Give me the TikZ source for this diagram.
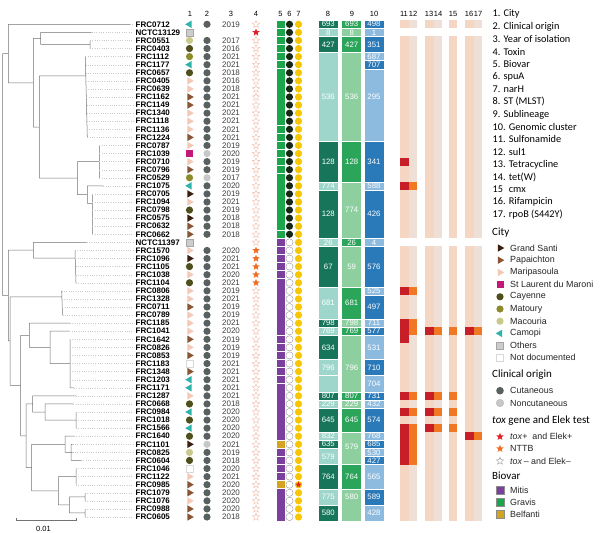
\documentclass[tikz,border=0pt]{standalone}
\usepackage{fontspec}
\setmainfont{Liberation Sans}
\newfontfamily\legfont{Carlito}
\usetikzlibrary{shapes.geometric}

\definecolor{cGS}{HTML}{3B1E0E}
\definecolor{cPA}{HTML}{8A5535}
\definecolor{cMA}{HTML}{F3C9B5}
\definecolor{cSL}{HTML}{C2187C}
\definecolor{cCY}{HTML}{4F4F1C}
\definecolor{cMT}{HTML}{8C8C2A}
\definecolor{cMC}{HTML}{C9C98C}
\definecolor{cCA}{HTML}{2DB3A8}
\definecolor{cOT}{HTML}{CCCCCC}
\definecolor{cCut}{HTML}{58615F}
\definecolor{cNon}{HTML}{C8C8C8}
\definecolor{cToxP}{HTML}{E31E26}
\definecolor{cNTTB}{HTML}{F26B21}
\definecolor{cToxN}{HTML}{F2B8A6}
\definecolor{cMitis}{HTML}{7B3F9E}
\definecolor{cGravis}{HTML}{1CA64B}
\definecolor{cBelf}{HTML}{D4A421}
\definecolor{cSpu}{HTML}{142814}
\definecolor{cNar}{HTML}{F7C600}
\definecolor{stD}{HTML}{17765A}
\definecolor{stL}{HTML}{9ED6CB}
\definecolor{slD}{HTML}{2BA55A}
\definecolor{slL}{HTML}{8DCF9F}
\definecolor{gcD}{HTML}{2A7AB9}
\definecolor{gcL}{HTML}{8DBBE0}
\definecolor{resP}{HTML}{F5D6C2}
\definecolor{resG}{HTML}{EEE0D7}
\definecolor{resR}{HTML}{C81E28}
\definecolor{resO}{HTML}{F07822}

\tikzset{
  treeline/.style={draw=black!55, line width=.5pt},
  leader/.style={draw=black!20, line width=.3pt, dotted},
  strain/.style={anchor=west, inner sep=0pt, font=\fontsize{8}{8}\selectfont\bfseries},
  yeartxt/.style={inner sep=0pt, text=black!75, font=\fontsize{8}{8}\selectfont},
  colnum/.style={inner sep=0pt, font=\fontsize{7.5}{7.5}\selectfont},
  blklbl/.style={inner sep=0pt, text=white, font=\fontsize{7.8}{7.8}\selectfont},
  trimark/.style={regular polygon, regular polygon sides=3, inner sep=0pt, minimum size=8.6pt},
  roundmark/.style={circle, inner sep=0pt, minimum size=7.2pt},
  sqmark/.style={rectangle, inner sep=0pt, minimum size=7pt},
  grandsanti/.style={trimark, shape border rotate=-90, fill=cGS},
  papaichton/.style={trimark, shape border rotate=-90, fill=cPA},
  maripasoula/.style={trimark, shape border rotate=-90, fill=cMA},
  stlaurent/.style={sqmark, fill=cSL},
  cayenne/.style={roundmark, fill=cCY},
  matoury/.style={roundmark, fill=cMT},
  macouria/.style={roundmark, fill=cMC},
  camopi/.style={trimark, shape border rotate=90, fill=cCA},
  others/.style={sqmark, fill=cOT, draw=black!35, line width=.3pt},
  notdoc/.style={sqmark, fill=white, draw=black!15, line width=.3pt},
  cutan/.style={roundmark, fill=cCut},
  noncutan/.style={roundmark, fill=cNon},
  toxstar/.style={star, star points=5, star point ratio=2.3, inner sep=0pt, minimum size=7.8pt},
  toxpos/.style={toxstar, fill=cToxP},
  nttb/.style={toxstar, fill=cNTTB},
  toxneg/.style={toxstar, fill=white, draw=cToxN, line width=.4pt},
  biobox/.style={rectangle, inner sep=0pt, minimum width=8pt, minimum height=7.6pt},
  mitis/.style={biobox, fill=cMitis},
  gravis/.style={biobox, fill=cGravis},
  belfanti/.style={biobox, fill=cBelf},
  spufull/.style={roundmark, fill=cSpu},
  spuempty/.style={roundmark, fill=white, draw=black!40, line width=.4pt},
  narh/.style={roundmark, fill=cNar},
  legnum/.style={anchor=west, inner sep=0pt, font=\legfont\fontsize{10.3}{10.3}\selectfont},
  legtitle/.style={anchor=west, inner sep=0pt, font=\legfont\fontsize{11}{11}\selectfont},
  legitem/.style={anchor=west, inner sep=0pt, text=black!85, font=\fontsize{8.9}{8.9}\selectfont},
}

\newcommand{\typeblock}[7]{%
  \path[fill=#5, draw=white, line width=.45pt] (#2,#3-.5) rectangle (#2+20,#4+.5);%
  \node[blklbl] (#1) at (#2+10,#7) {#6};%
}

\begin{document}
\begin{tikzpicture}[x=1pt,y=-1pt]
\useasboundingbox (0,0) rectangle (600,533);
\fill[white] (0,0) rectangle (600,533);

\foreach \lab/\x in {1/190,2/207,3/231,4/256,5/280.5,6/289.5,7/298.5,8/328,9/352,10/374,11/404,12/413,13/429,14/438,15/453,16/469,17/478}
  \node[colnum] (head\lab) at (\x,14) {\lab};

\begin{scope}[y=-8.077pt,yshift=-16.223pt]
% tree
\draw[treeline] (2.7,4.62) -- (2.7,34.6)
  (2.7,4.62) -- (8.3,4.62) (8.3,1) -- (8.3,8.24) (8.3,1) -- (130,1)
  (8.3,8.24) -- (33.3,8.24) (33.3,2.75) -- (33.3,13.72)
  (33.3,2.75) -- (40.7,2.75) (40.7,2) -- (40.7,3.5) (40.7,2) -- (91.7,2)
  (40.7,3.5) -- (90,3.5) (90,3) -- (90,4)
  (33.3,13.72) -- (39.3,13.72) (39.3,7.4) -- (39.3,20.04) (39.3,7.4) -- (85.7,7.4) (85.3,5) -- (87.3,15)
  (39.3,20.04) -- (77.3,20.04) (77.3,18) -- (77.3,22.08) (77.3,18) -- (99.3,18) (99.3,16) -- (99.3,20)
  (77.3,22.08) -- (87.3,22.08) (87.3,21) -- (87.3,23.16) (87.3,21) -- (103.3,21)
  (87.3,23.16) -- (92.3,23.16) (92.3,22) -- (92.3,27);
\draw[treeline] (2.7,34.6) -- (8.3,34.6) (8.3,28.97) -- (8.3,40.2)
  (8.3,28.97) -- (33.3,28.97) (33.3,28) -- (33.3,29.94) (33.3,28) -- (86.7,28)
  (33.3,29.94) -- (75,29.94) (75,29) -- (76,33)
  (8.3,40.2) -- (10,40.2) (10,34.76) -- (10,45.7) (10,34.76) -- (61.7,34.76) (61.7,34) -- (62.5,37)
  (10,45.7) -- (20.7,45.7) (20.7,39.5) -- (20.7,51.95)
  (20.7,39.5) -- (29.3,39.5) (29.3,38) -- (29.3,41) (29.3,38) -- (70,38)
  (29.3,41) -- (50,41) (50,39) -- (50,43) (50,39) -- (69.3,39) (50,43) -- (70,43) (70,40) -- (70,46) (70,46) -- (74,46)
  (20.7,51.95) -- (26,51.95) (26,48) -- (26,55.9)
  (26,48) -- (32.7,48) (32.7,47) -- (32.7,49) (32.7,47) -- (76,47)
  (32.7,49) -- (45,49) (45,48) -- (45,50) (45,48) -- (73.3,48) (45,50) -- (76,50) (76,49) -- (76,51)
  (26,55.9) -- (31.7,55.9) (31.7,53) -- (31.7,58.75)
  (31.7,53) -- (65,53) (65,52) -- (65,54) (65,52) -- (74,52) (65,54) -- (71,54) (71,53) -- (71,55)
  (71,53) -- (72.7,53) (71,54) -- (72.7,54) (71,55) -- (81,55)
  (31.7,58.75) -- (58.3,58.75) (58.3,57) -- (58.3,60.5) (58.3,57) -- (76,57) (76,56) -- (76,58)
  (58.3,60.5) -- (69.3,60.5) (69.3,59.5) -- (69.3,61.5)
  (69.3,59.5) -- (85,59.5) (85,59) -- (85,60) (69.3,61.5) -- (85,61.5) (85,61) -- (85,62);

\foreach \r/\x in {1/130,2/91.7,3/90,4/90,5/85.3,6/85.5,7/85.7,8/85.9,9/86.1,10/86.3,11/86.5,12/86.7,13/86.9,14/87.1,15/87.3,
  16/99.3,17/99.3,18/99.3,19/99.3,20/99.3,21/103.3,22/92.3,23/92.3,24/92.3,25/92.3,26/92.3,27/92.3,
  28/86.7,29/75,30/75.25,31/75.5,32/75.75,33/76,34/61.7,35/62,36/62.3,37/62.5,38/70,39/69.3,
  40/70,41/70,42/70,43/70,44/70,45/70,46/74,47/76,48/73.3,49/76,50/76,51/76,52/74,53/72.7,54/72.7,55/81,
  56/76,57/76,58/76,59/85,60/85,61/85,62/85}
  \draw[leader] (\x,\r) -- (133,\r);

% strains, city, year
\foreach \r/\n/\ct/\yr in {
  1/FRC0712/camopi/2019, 2/NCTC13129/others/{}, 3/FRC0551/macouria/2017, 4/FRC0403/cayenne/2016,
  5/FRC1112/matoury/2021, 6/FRC1177/camopi/2021, 7/FRC0657/cayenne/2018, 8/FRC0405/maripasoula/2016,
  9/FRC0639/maripasoula/2018, 10/FRC1162/papaichton/2021, 11/FRC1149/papaichton/2021, 12/FRC1340/maripasoula/2021,
  13/FRC1118/maripasoula/2021, 14/FRC1136/maripasoula/2021, 15/FRC1224/papaichton/2021, 16/FRC0787/maripasoula/2019,
  17/FRC1039/stlaurent/2020, 18/FRC0710/maripasoula/2019, 19/FRC0796/papaichton/2019, 20/FRC0529/matoury/2017,
  21/FRC1075/camopi/2020, 22/FRC0705/grandsanti/2019, 23/FRC1094/maripasoula/2021, 24/FRC0798/cayenne/2019,
  25/FRC0575/grandsanti/2018, 26/FRC0632/papaichton/2018, 27/FRC0662/papaichton/2018, 28/NCTC11397/others/{},
  29/FRC1570/maripasoula/2020, 30/FRC1096/grandsanti/2021, 31/FRC1105/cayenne/2021, 32/FRC1038/maripasoula/2020,
  33/FRC1104/cayenne/2021, 34/FRC0806/maripasoula/2019, 35/FRC1328/maripasoula/2021, 36/FRC0711/papaichton/2019,
  37/FRC0789/maripasoula/2019, 38/FRC1185/maripasoula/2021, 39/FRC1041/maripasoula/2020, 40/FRC1642/papaichton/2019,
  41/FRC0826/maripasoula/2019, 42/FRC0853/papaichton/2019, 43/FRC1183/notdoc/2021, 44/FRC1348/papaichton/2021,
  45/FRC1203/camopi/2021, 46/FRC1171/camopi/2021, 47/FRC1287/maripasoula/2021, 48/FRC0668/cayenne/2018,
  49/FRC0984/camopi/2020, 50/FRC1018/cayenne/2020, 51/FRC1566/camopi/2020, 52/FRC1640/cayenne/2020,
  53/FRC1101/grandsanti/2021, 54/FRC0825/macouria/2019, 55/FRC0604/cayenne/2018, 56/FRC1046/notdoc/2020,
  57/FRC1122/maripasoula/2021, 58/FRC0985/papaichton/2020, 59/FRC1079/papaichton/2020, 60/FRC1076/maripasoula/2020,
  61/FRC0988/papaichton/2020, 62/FRC0605/papaichton/2018}
{
  \node[strain] (s\r) at (135.5,\r) {\n};
  \node[\ct] (city\r) at (189.5,\r) {};
  \node[yeartxt] (yr\r) at (231,\r) {\yr};
}

\foreach \r in {1,3,4,...,16,18,19,21,22,...,27,29,30,...,52,54,55,...,62}
  \node[cutan] (clin\r) at (207,\r) {};
\foreach \r in {17,20,53}
  \node[noncutan] (clin\r) at (207,\r) {};

\foreach \r in {1,3,4,...,28,34,35,...,62}
  \node[toxneg] (tox\r) at (256,\r) {};
\foreach \r in {29,...,33}
  \node[nttb] (tox\r) at (256,\r) {};
\node[toxpos] (tox2) at (256,2) {};

\foreach \r in {1,...,27}
  \node[gravis] (bio\r) at (280.5,\r) {};
\foreach \r in {28,...,52,54,55,56,57,59,60,61,62}
  \node[mitis] (bio\r) at (280.5,\r) {};
\foreach \r in {53,58}
  \node[belfanti] (bio\r) at (280.5,\r) {};

\foreach \r in {1,...,27}
  \node[spufull] (spu\r) at (289.5,\r) {};
\foreach \r in {28,...,62}
  \node[spuempty] (spu\r) at (289.5,\r) {};
\foreach \r in {1,...,62}
  \node[narh] (nar\r) at (298.5,\r) {};
\node[toxpos, minimum size=6.5pt] (narstar) at (298.5,58) {};

% ST, sublineage, genomic cluster
\foreach \a/\b/\cl/\lab/\lr [count=\i] in {1/1/stD/693/1, 2/2/stL/8/2, 3/4/stD/427/3.5, 5/15/stL/536/10,
  16/20/stD/128/18, 21/21/stL/774/21, 22/27/stD/128/24.5, 28/28/stL/26/28, 29/33/stD/67/31,
  34/37/stL/681/35.5, 38/38/stD/798/38, 39/39/stL/769/39, 40/42/stD/634/41, 43/44/stL/796/43.5,
  45/46/stL/{}/45.5, 47/47/stD/807/47, 48/48/stL/229/48, 49/51/stD/645/50, 52/52/stL/832/52,
  53/53/stD/635/53, 54/55/stL/579/54.5, 56/58/stD/764/57, 59/60/stL/775/59.5, 61/62/stD/580/61.5}
  {\typeblock{st\i}{318.3}{\a}{\b}{\cl}{\lab}{\lr}}
\foreach \a/\b/\cl/\lab/\lr [count=\i] in {1/1/slD/693/1, 2/2/slL/8/2, 3/4/slD/427/3.5, 5/15/slL/536/10,
  16/20/slD/128/18, 21/27/slL/774/24, 28/28/slD/26/28, 29/33/slL/59/31, 34/37/slD/681/35.5,
  38/38/slL/798/38, 39/39/slD/769/39, 40/46/slL/796/43.5, 47/47/slD/807/47, 48/48/slL/229/48,
  49/51/slD/645/50, 52/55/slL/579/53.3, 56/58/slD/764/57, 59/62/slL/580/59.5}
  {\typeblock{sl\i}{341.7}{\a}{\b}{\cl}{\lab}{\lr}}
\foreach \a/\b/\cl/\lab/\lr [count=\i] in {1/1/gcD/498/1, 2/2/gcL/1/2, 3/4/gcD/351/3.5, 5/5/gcL/687/5,
  6/6/gcD/707/6, 7/15/gcL/295/10, 16/20/gcD/341/18, 21/21/gcL/588/21, 22/27/gcD/426/24.5,
  28/28/gcL/4/28, 29/33/gcD/576/31, 34/34/gcL/525/34, 35/37/gcD/497/36, 38/38/gcL/711/38,
  39/39/gcD/577/39, 40/42/gcL/531/41, 43/44/gcD/710/43.5, 45/46/gcL/704/45.5, 47/47/gcD/731/47,
  48/48/gcL/432/48, 49/51/gcD/574/50, 52/52/gcL/768/52, 53/53/gcD/685/53, 54/54/gcL/530/54,
  55/55/gcD/427/55, 56/58/gcL/565/57, 59/60/gcD/589/59.5, 61/62/gcL/428/61.5}
  {\typeblock{gc\i}{364}{\a}{\b}{\cl}{\lab}{\lr}}

% resistance columns
\foreach \x/\cl in {400/resP,408.5/resG,425/resP,433.5/resG,448.5/resP,465/resP,473.5/resG}
{
  \fill[\cl] (\x,.5) rectangle (\x+8.5,1.5);
  \fill[\cl] (\x,2.5) rectangle (\x+8.5,27.5);
  \fill[\cl] (\x,28.5) rectangle (\x+8.5,62.5);
}
\foreach \x/\cl/\rows in {400/resR/{18,21,34,38,39,40,47,49,51,52,53,54,55},
  408.5/resO/{21,34,38,39,47,49,51,52,53,54,55}, 425/resR/{39,47,49,51}, 433.5/resO/{39,47,49,51},
  448.5/resO/{39,47,49,51}, 465/resR/{39,52}, 473.5/resO/{39,52}}
  \foreach \r in \rows
    \fill[\cl] (\x,\r-.5) rectangle (\x+8.5,\r+.5);
\end{scope}

% scale bar
\draw[treeline] (16.7,518) -- (16.7,520.5) -- (76,520.5) -- (76,518);
\node[colnum] (scale) at (43.5,528.5) {0.01};

% legend
\foreach \lab [count=\i] in {1. City, 2. Clinical origin, 3. Year of isolation, 4. Toxin, 5. Biovar,
  6. spuA, 7. narH, 8. ST (MLST), 9. Sublineage, 10. Genomic cluster, 11. Sulfonamide, 12. sul1,
  13. Tetracycline, 14. tet(W), {15\hspace{.55em}cmx}, 16. Rifampicin, 17. rpoB (S442Y)}
  \node[legnum] (key\i) at (492.5,{14+12.54*(\i-1)}) {\lab};

\node[legtitle] (cityttl) at (492,233) {City};
\foreach \st/\lab [count=\i] in {grandsanti/Grand Santi, papaichton/Papaichton, maripasoula/Maripasoula,
  stlaurent/St Laurent du Maroni, cayenne/Cayenne, matoury/Matoury, macouria/Macouria, camopi/Camopi,
  others/Others, notdoc/Not documented}
{
  \node[\st] (citykey\i) at (500,{248+12.2*(\i-1)}) {};
  \node[legitem] (citytxt\i) at (510,{248+12.2*(\i-1)}) {\lab};
}

\node[legtitle] (clinttl) at (492,375) {Clinical origin};
\node[cutan, minimum size=7.6pt] (clinkey1) at (500,390.7) {};
\node[legitem] (clintxt1) at (510,390.7) {Cutaneous};
\node[noncutan, minimum size=7.6pt, draw=black!30, line width=.3pt] (clinkey2) at (500,403) {};
\node[legitem] (clintxt2) at (510,403) {Noncutaneous};

\node[legtitle] (toxttl) at (492,421) {\textit{tox} gene and Elek test};
\node[toxpos] (toxkey1) at (500,436.7) {};
\node[legitem] (toxtxt1) at (510,436.7) {\textit{tox}+\ \ and Elek+};
\node[nttb] (toxkey2) at (500,448.7) {};
\node[legitem] (toxtxt2) at (510,448.7) {NTTB};
\node[toxneg, draw=black!40] (toxkey3) at (500,461) {};
\node[legitem] (toxtxt3) at (510,461) {\textit{tox}\,– and Elek–};

\node[legtitle] (biottl) at (492,476) {Biovar};
\foreach \st/\lab/\yy [count=\i] in {mitis/Mitis/490, gravis/Gravis/502, belfanti/Belfanti/514}
{
  \node[\st, draw=black!45, line width=.4pt] (biokey\i) at (500,\yy) {};
  \node[legitem] (biotxt\i) at (510,\yy) {\lab};
}
\end{tikzpicture}
\end{document}
